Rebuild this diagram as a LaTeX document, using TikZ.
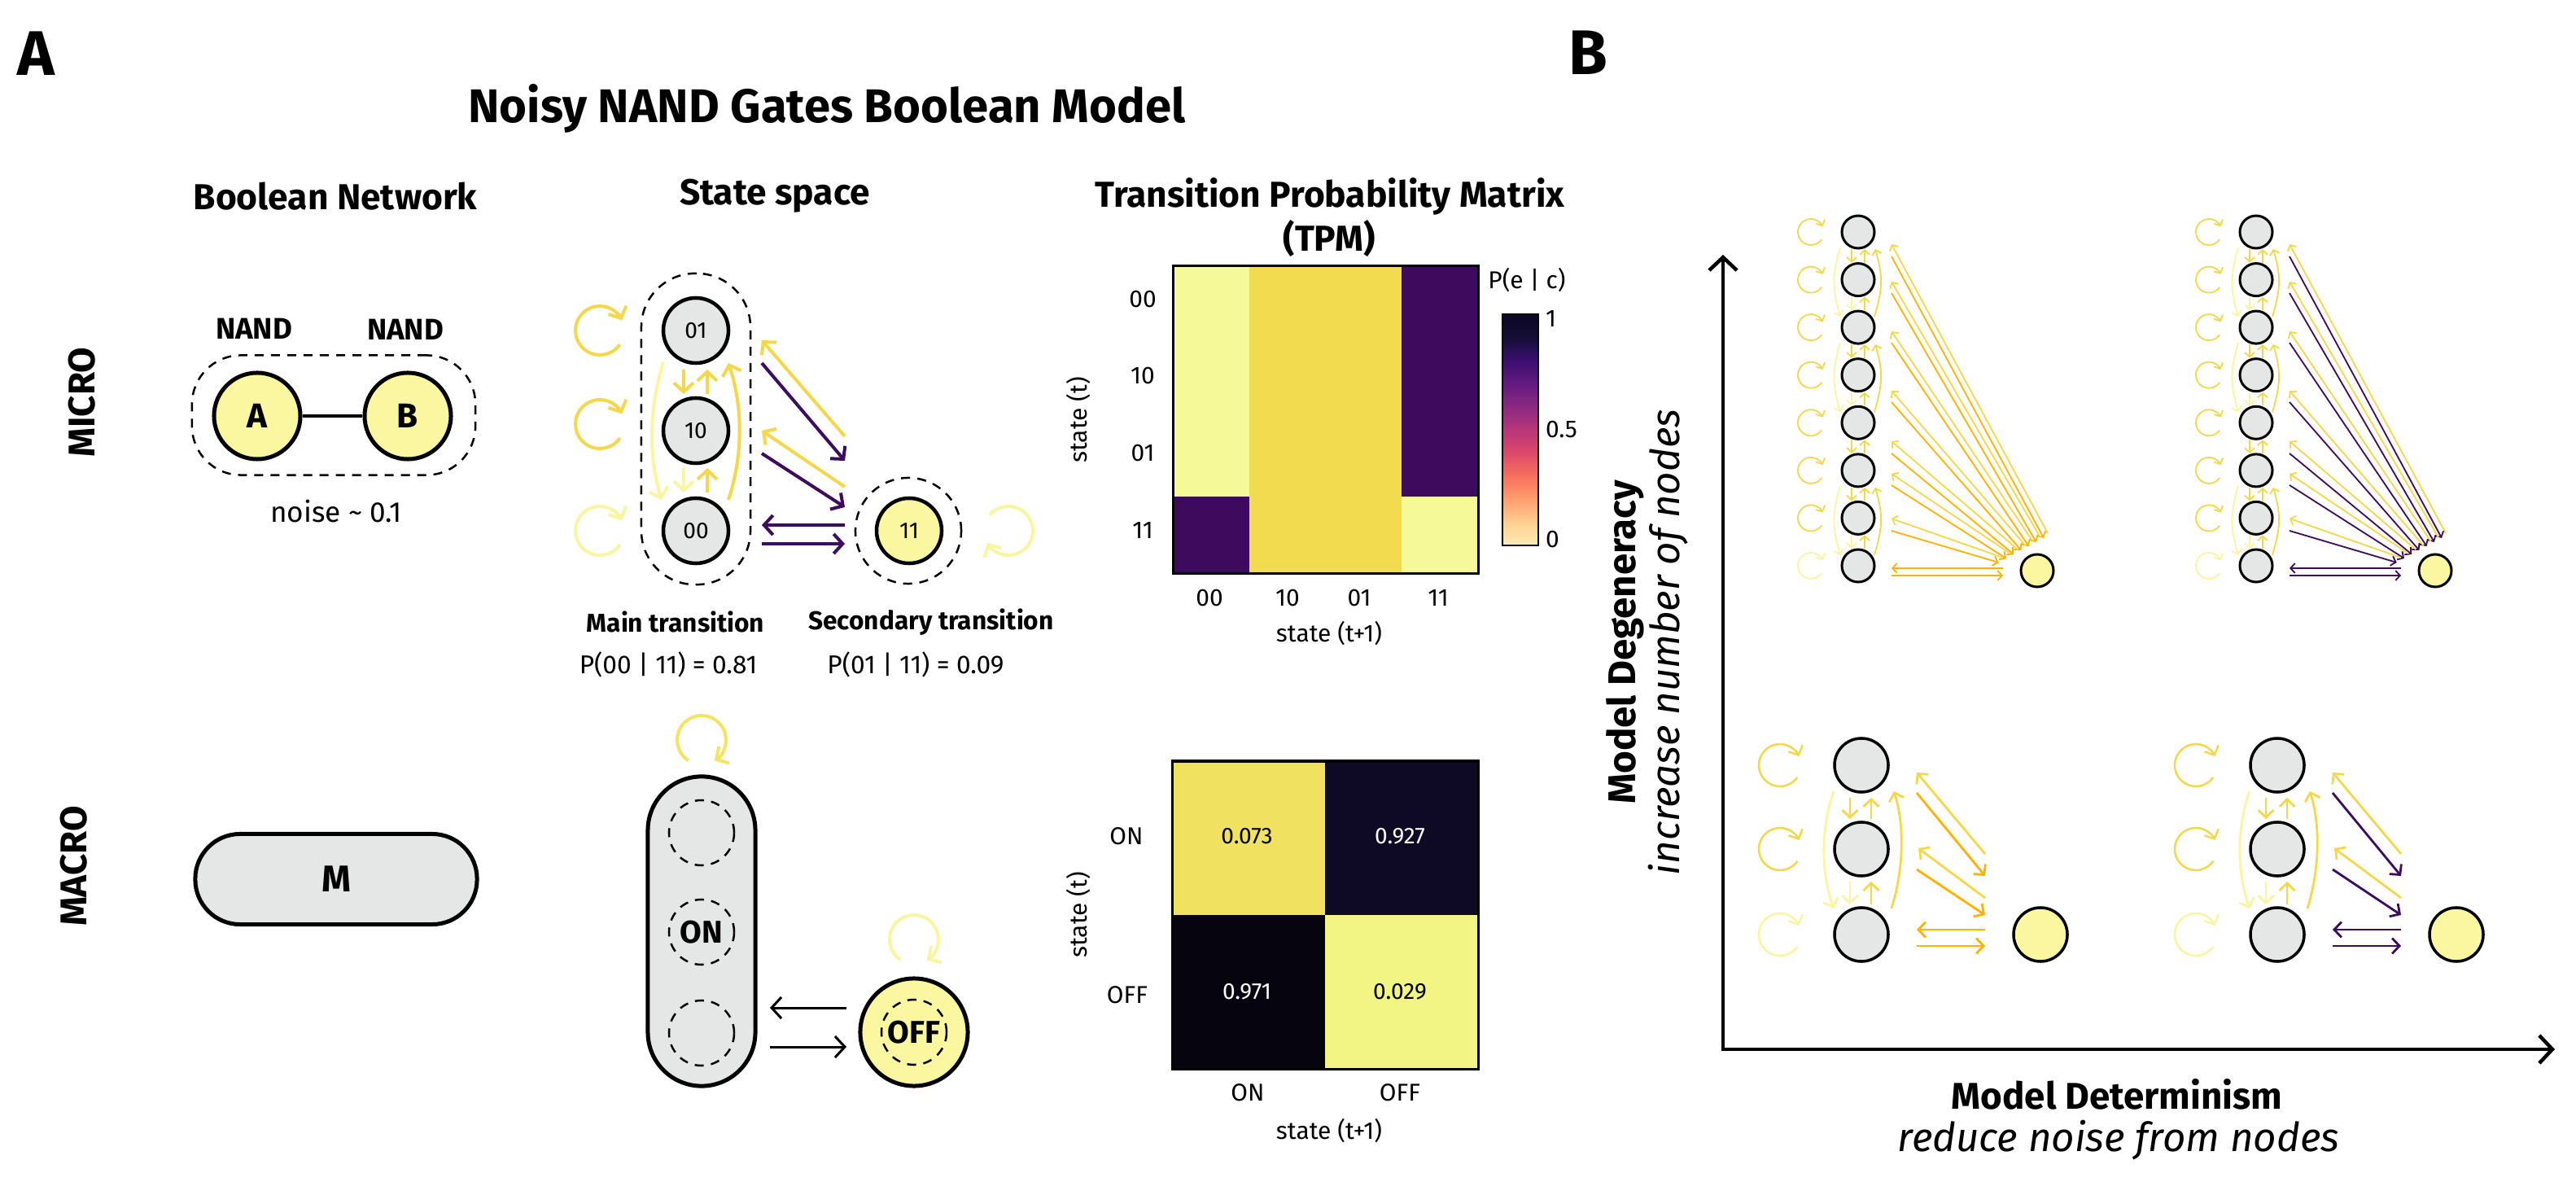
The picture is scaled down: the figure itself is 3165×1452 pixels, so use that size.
\documentclass[tikz,border=0pt]{standalone}
\usepackage{fontspec}
\setmainfont{Fira Sans}
\usetikzlibrary{arrows.meta,calc}
\definecolor{gry}{RGB}{229,231,230}
\definecolor{ylw}{RGB}{250,247,160}
\definecolor{gold}{RGB}{245,215,75}
\definecolor{pale}{RGB}{249,245,160}
\definecolor{mloop}{RGB}{245,228,100}
\definecolor{purp}{RGB}{62,12,94}
\definecolor{orng}{RGB}{255,178,0}
\definecolor{hmpale}{RGB}{245,249,152}
\definecolor{hmgold}{RGB}{242,219,78}
\definecolor{hmpurp}{RGB}{61,10,94}
\definecolor{mtl}{RGB}{240,226,96}
\definecolor{mtr}{RGB}{14,10,38}
\definecolor{mbl}{RGB}{5,4,15}
\definecolor{mbr}{RGB}{242,245,131}
\definecolor{mg0}{HTML}{0B0724}
\definecolor{mg1}{HTML}{140E36}
\definecolor{mg2}{HTML}{3B0F70}
\definecolor{mg3}{HTML}{641A80}
\definecolor{mg4}{HTML}{8C2981}
\definecolor{mg5}{HTML}{B73779}
\definecolor{mg6}{HTML}{DE4968}
\definecolor{mg7}{HTML}{F7705C}
\definecolor{mg8}{HTML}{FE9F6D}
\definecolor{mg9}{HTML}{FECF92}
\definecolor{mg10}{HTML}{FCEDB5}
\newcommand\fsz[1]{\fontsize{#1}{#1}\selectfont}
\tikzset{
  lbl/.style={inner sep=0pt, outer sep=0pt},
  hdr/.style={lbl, font=\fsz{12.6}\bfseries},
  ssnode/.style={circle, draw=black, line width=0.45mm, fill=gry, minimum size=8mm, inner sep=0pt, font=\fsz{8}},
  bnnode/.style={circle, draw=black, line width=0.5mm, fill=ylw, minimum size=10.6mm, inner sep=0pt, font=\fsz{12}\bfseries},
  dashln/.style={draw=black, line width=0.25mm, dash pattern=on 1.1mm off 0.9mm},
  arrA/.style={line width=0.4mm, -{Straight Barb[length=1.1mm,width=2.4mm]}},
  arrK/.style={line width=0.3mm, -{Straight Barb[length=1.2mm,width=2.6mm]}},
  arrT/.style={line width=0.18mm, -{Straight Barb[length=0.55mm,width=1.2mm]}},
  arrL/.style={line width=0.28mm, -{Straight Barb[length=0.9mm,width=1.9mm]}},
  bnodeS/.style={circle, draw=black, line width=0.3mm, fill=gry, minimum size=4mm, inner sep=0pt},
  bnodeL/.style={circle, draw=black, line width=0.35mm, fill=gry, minimum size=6.6mm, inner sep=0pt},
}
% top block of panel B: #1 prefix, #2 x shift, #3 colour of arrows towards the yellow node
\newcommand\topblock[3]{%
  \foreach \i/\y in {1/285,2/343.6,3/402.1,4/460.7,5/519.3,6/577.9,7/636.4,8/695}{
    \node[bnodeS] (#1\i) at ({2283+#2},\y) {};
  }
  \node[bnodeS, fill=ylw] (#1Y) at ({2503+#2},701) {};
  \foreach \i in {1,...,7}{
    \draw[arrT, gold] ($(#1\i)+(-58,0)$) ++(35:16) arc[start angle=35,end angle=335,radius=16];
  }
  \draw[arrT, pale] ($(#18)+(-58,0)$) ++(35:16) arc[start angle=35,end angle=335,radius=16];
  \foreach \i/\j/\c in {1/2/gold,2/3/pale,3/4/gold,4/5/pale,5/6/gold,6/7/gold,7/8/pale}{
    \draw[arrT, \c] ($(#1\i)+(-8,21)$) -- ($(#1\j)+(-8,-21)$);
    \draw[arrT, gold] ($(#1\j)+(8,-21)$) -- ($(#1\i)+(8,21)$);
  }
  \foreach \i/\j in {1/3,3/5,6/8}{
    \draw[arrT, pale] ($(#1\i)+(-22,19)$) .. controls +(-10,35) and +(-10,-35) .. ($(#1\j)+(-22,-13)$);
    \draw[arrT, gold] ($(#1\j)+(20,-13)$) .. controls +(10,-35) and +(10,35) .. ($(#1\i)+(21,21)$);
  }
  \foreach \k/\ty/\ts in {1/300/315,2/346/360,3/407/421,4/480/494,5/542/557,6/582/596,7/637/652}{
    \draw[arrT, gold] ($(#1Y)+({13-9.2*(\k-1)},{-46+5*(\k-1)})$) -- ($(#11)+(41,{\ty-285})$);
    \draw[arrT, #3] ($(#11)+(41,{\ts-285})$) -- ($(#1Y)+({8-9.2*(\k-1)},{-40+5*(\k-1)})$);
  }
  \draw[arrT, #3] ($(#1Y)+(-42,-3)$) -- ($(#18)+(41,3)$);
  \draw[arrT, #3] ($(#18)+(41,12)$) -- ($(#1Y)+(-42,6)$);
}
% bottom block of panel B
\newcommand\botblock[3]{%
  \node[bnodeL] (#11) at ({2287+#2},940) {};
  \node[bnodeL] (#12) at ({2287+#2},1043) {};
  \node[bnodeL] (#13) at ({2287+#2},1148) {};
  \node[bnodeL, fill=ylw] (#1Y) at ({2507+#2},1148) {};
  \foreach \i/\c in {1/gold,2/gold,3/pale}{
    \draw[arrL, line width=0.25mm, \c] ($(#1\i)+(-100,0)$) ++(35:26) arc[start angle=35,end angle=335,radius=26];
  }
  \foreach \i/\j/\c in {1/2/gold,2/3/pale}{
    \draw[arrL, \c] ($(#1\i)+(-14,40)$) -- ($(#1\j)+(-14,-37)$);
    \draw[arrL, gold] ($(#1\j)+(12,-37)$) -- ($(#1\i)+(12,40)$);
  }
  \draw[arrL, pale] ($(#11)+(-34,32)$) .. controls +(-16,45) and +(-16,-45) .. ($(#13)+(-34,-32)$);
  \draw[arrL, gold] ($(#13)+(37,-32)$) .. controls +(14,-45) and +(14,45) .. ($(#11)+(40,32)$);
  \draw[arrL, gold] ($(#1Y)+(-68,-99)$) -- ($(#11)+(68,9)$);
  \draw[arrL, #3] ($(#11)+(68,34)$) -- ($(#1Y)+(-68,-72)$);
  \draw[arrL, gold] ($(#1Y)+(-68,-45)$) -- ($(#12)+(70,-1)$);
  \draw[arrL, #3] ($(#12)+(68,25)$) -- ($(#1Y)+(-68,-24)$);
  \draw[arrL, #3] ($(#1Y)+(-68,-6)$) -- ($(#13)+(68,-6)$);
  \draw[arrL, #3] ($(#13)+(68,14)$) -- ($(#1Y)+(-68,14)$);
}
\begin{document}
\begin{tikzpicture}[x=0.01cm,y=-0.01cm]
\fill[white] (0,0) rectangle (3165,1452);
\useasboundingbox (0,0) rectangle (3165,1452);

% ---------------- titles
\node[lbl, font=\fsz{22}\bfseries] (labA) at (44,66) {A};
\node[lbl, font=\fsz{22}\bfseries] (labB) at (1951,65) {B};
\node[lbl, font=\fsz{16.5}\bfseries] (title) at (1016,133) {Noisy NAND Gates Boolean Model};
\node[hdr] (h1) at (412,241) {Boolean Network};
\node[hdr] (h2) at (952,241) {State space};
\node[hdr] (h3) at (1634,241) {Transition Probability Matrix};
\node[hdr] (h3b) at (1633,293) {(TPM)};
\node[lbl, font=\fsz{13}\bfseries, rotate=90] (micro) at (101,494) {MICRO};
\node[lbl, font=\fsz{13}\bfseries, rotate=90] (macro) at (91,1064) {MACRO};

% ---------------- Boolean network
\node[dashln, rounded corners=6mm, minimum width=34.8mm, minimum height=14.7mm, inner sep=0pt] (bnbox) at (410,510) {};
\node[bnnode] (A) at (316,511) {A};
\node[bnnode] (B) at (501,511) {B};
\draw[line width=0.45mm] (A) -- (B);
\node[lbl, font=\fsz{10.4}\bfseries] (nand1) at (312,404) {NAND};
\node[lbl, font=\fsz{10.4}\bfseries] (nand2) at (498,405) {NAND};
\node[lbl, font=\fsz{10}] (noise) at (413,628) {noise \textasciitilde{} 0.1};

% ---------------- micro state space
\node[dashln, rounded corners=6.6mm, minimum width=13.4mm, minimum height=38.2mm, inner sep=0pt] (ssbox) at (855,527) {};
\node[dashln, circle, minimum size=13mm, inner sep=0pt] (s11box) at (1116,652) {};
\node[ssnode] (s01) at (855,406) {01};
\node[ssnode] (s10) at (855,529) {10};
\node[ssnode] (s00) at (855,652) {00};
\node[ssnode, fill=ylw] (s11) at (1117,652) {11};
\draw[arrA, gold] ($(s01)+(-118,0)$) ++(35:30) arc[start angle=35,end angle=335,radius=30];
\draw[arrA, gold] ($(s10)+(-118,-8)$) ++(35:30) arc[start angle=35,end angle=335,radius=30];
\draw[arrA, pale] ($(s00)+(-118,0)$) ++(35:30) arc[start angle=35,end angle=335,radius=30];
\draw[arrA, pale] ($(s11)+(122,0)$) ++(-140:30) arc[start angle=-140,end angle=150,radius=30];
\draw[arrA, gold] ($(s01)+(-15,48)$) -- ($(s10)+(-15,-45)$);
\draw[arrA, gold] ($(s10)+(14,-45)$) -- ($(s01)+(14,48)$);
\draw[arrA, pale] ($(s10)+(-15,46)$) -- ($(s00)+(-15,-47)$);
\draw[arrA, gold] ($(s00)+(14,-47)$) -- ($(s10)+(14,46)$);
\draw[arrA, pale] ($(s01)+(-40,39)$) .. controls +(-17,55) and +(-17,-55) .. ($(s00)+(-42,-38)$);
\draw[arrA, gold] ($(s00)+(40,-38)$) .. controls +(18,-55) and +(18,55) .. ($(s01)+(40,40)$);
\draw[arrA, gold] ($(s11)+(-79,-116)$) -- ($(s01)+(81,12)$);
\draw[arrA, purp] ($(s01)+(81,40)$) -- ($(s11)+(-79,-86)$);
\draw[arrA, gold] ($(s11)+(-79,-54)$) -- ($(s10)+(81,0)$);
\draw[arrA, purp] ($(s10)+(81,28)$) -- ($(s11)+(-79,-29)$);
\draw[arrA, purp] ($(s11)+(-79,-7)$) -- ($(s00)+(81,-7)$);
\draw[arrA, purp] ($(s00)+(81,16)$) -- ($(s11)+(-79,16)$);
\node[lbl, font=\fsz{9}\bfseries] (mt) at (830,764) {Main transition};
\node[lbl, font=\fsz{9}] (mtp) at (821,816) {P(00 | 11) = 0.81};
\node[lbl, font=\fsz{9}\bfseries] (st) at (1144,764) {Secondary transition};
\node[lbl, font=\fsz{9}] (stp) at (1125,816) {P(01 | 11) = 0.09};

% ---------------- micro TPM
\fill[hmpale] (1441,327) rectangle (1535,610.5);
\fill[hmpurp] (1441,610.5) rectangle (1535,705);
\fill[hmgold] (1535,327) rectangle (1722,705);
\fill[hmpurp] (1722,327) rectangle (1816,610.5);
\fill[hmpale] (1722,610.5) rectangle (1816,705);
\draw[line width=0.3mm] (1441,327) rectangle (1816,705);
\foreach \t/\y in {00/368,10/462,01/557,11/652}{
  \node[lbl, font=\fsz{8.5}] at (1404,\y) {\t};
}
\foreach \t/\x in {00/1486,10/1582,01/1670,11/1767}{
  \node[lbl, font=\fsz{8.5}] at (\x,735) {\t};
}
\node[lbl, font=\fsz{8.5}, rotate=90] (tpmy) at (1325,516) {state (t)};
\node[lbl, font=\fsz{8.5}] (tpmx) at (1633,778) {state (t+1)};
\node[lbl, font=\fsz{8.5}] (pec) at (1876,344) {P(e | c)};
\foreach \i [evaluate=\i as \j using int(\i+1)] in {0,...,9}{
  \shade[top color=mg\i, bottom color=mg\j] (1846,{386+28.4*\i}) rectangle (1890,{386+28.4*(\i+1)+0.5});
}
\draw[line width=0.15mm] (1846,386) rectangle (1890,670);
\node[lbl, font=\fsz{8.5}, anchor=west] (cb1) at (1899,392) {1};
\node[lbl, font=\fsz{8.5}, anchor=west] (cb5) at (1899,528) {0.5};
\node[lbl, font=\fsz{8.5}, anchor=west] (cb0) at (1899,663) {0};

% ---------------- macro Boolean network
\node[draw, line width=0.5mm, fill=gry, rounded corners=5.5mm, minimum width=34.6mm, minimum height=11.1mm, inner sep=0pt, font=\fsz{13}\bfseries] (M) at (413,1080) {M};

% ---------------- macro state space
\node[draw, line width=0.5mm, fill=gry, rounded corners=6.6mm, minimum width=13.2mm, minimum height=38mm, inner sep=0pt] (pill) at (862,1144) {};
\node[dashln, circle, minimum size=8mm, inner sep=0pt] (pc1) at (862,1023) {};
\node[dashln, circle, minimum size=8mm, inner sep=0pt, font=\fsz{11}\bfseries] (pcON) at (862,1145) {ON};
\node[dashln, circle, minimum size=8mm, inner sep=0pt] (pc3) at (862,1269) {};
\node[circle, draw, line width=0.5mm, fill=ylw, minimum size=13.2mm, inner sep=0pt] (off) at (1123,1268) {};
\node[dashln, circle, minimum size=8mm, inner sep=0pt, font=\fsz{11}\bfseries] (offin) at (1123,1268) {OFF};
\draw[arrK] ($(off)+(-83,-30)$) -- ($(pill)+(84,94)$);
\draw[arrK] ($(pill)+(84,142)$) -- ($(off)+(-83,18)$);
\draw[arrA, mloop] ($(pill)+(0,-235)$) ++(-237:30) arc[start angle=-237,end angle=58,radius=30];
\draw[arrA, pale] ($(off)+(0,-114)$) ++(-237:30) arc[start angle=-237,end angle=58,radius=30];

% ---------------- macro TPM
\fill[mtl] (1440,935) rectangle (1628,1124);
\fill[mtr] (1628,935) rectangle (1816,1124);
\fill[mbl] (1440,1124) rectangle (1628,1313);
\fill[mbr] (1628,1124) rectangle (1816,1313);
\draw[line width=0.3mm] (1440,935) rectangle (1816,1313);
\node[lbl, font=\fsz{8}] at (1532,1027) {0.073};
\node[lbl, font=\fsz{8}, text=white] at (1720,1027) {0.927};
\node[lbl, font=\fsz{8}, text=white] at (1532,1218) {0.971};
\node[lbl, font=\fsz{8}] at (1720,1218) {0.029};
\node[lbl, font=\fsz{8.5}] at (1384,1027) {ON};
\node[lbl, font=\fsz{8.5}] at (1385,1222) {OFF};
\node[lbl, font=\fsz{8.5}] at (1533,1342) {ON};
\node[lbl, font=\fsz{8.5}] at (1720,1342) {OFF};
\node[lbl, font=\fsz{8.5}, rotate=90] (mtpy) at (1325,1124) {state (t)};
\node[lbl, font=\fsz{8.5}] (mtpx) at (1633,1389) {state (t+1)};

% ---------------- panel B axes
\coordinate (O) at (2117,1289);
\coordinate (Yt) at (2117,313);
\coordinate (Xr) at (3139,1289);
\draw[line width=0.45mm, {Straight Barb[length=1.6mm,width=3.4mm]}-{Straight Barb[length=1.6mm,width=3.4mm]}] (Yt) -- (O) -- (Xr);
\node[lbl, font=\fsz{13.5}\bfseries, rotate=90] (ydeg) at (1997,789) {Model Degeneracy};
\node[lbl, font=\fsz{14}\itshape, rotate=90] (ydeg2) at (2050,789) {increase number of nodes};
\node[lbl, font=\fsz{13}\bfseries] (xdet) at (2601,1344) {Model Determinism};
\node[lbl, font=\fsz{14}\itshape] (xdet2) at (2603,1401) {reduce noise from nodes};

\topblock{tl}{0}{orng}
\topblock{tr}{489}{purp}
\botblock{bl}{0}{orng}
\botblock{br}{511}{purp}
\end{tikzpicture}
\end{document}
